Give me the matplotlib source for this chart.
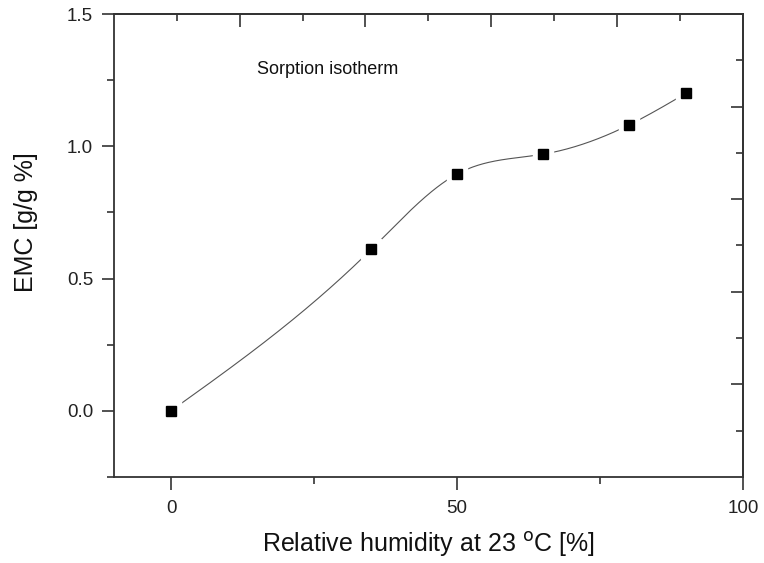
import numpy as np
import matplotlib
matplotlib.use("Agg")
from matplotlib import pyplot as plt
from matplotlib.ticker import MultipleLocator, FormatStrFormatter

# measured sorption isotherm
rh = [0, 35, 50, 65, 80, 90]
emc = [0.0, 0.61, 0.895, 0.97, 1.08, 1.2]


def natural_spline(x, y, xs):
    # natural cubic spline through the points, just for the smooth line
    x = np.asarray(x, float)
    y = np.asarray(y, float)
    n = len(x)
    h = np.diff(x)
    A = np.zeros((n, n))
    b = np.zeros(n)
    A[0, 0] = A[-1, -1] = 1
    for i in range(1, n - 1):
        A[i, i - 1] = h[i - 1]
        A[i, i] = 2 * (h[i - 1] + h[i])
        A[i, i + 1] = h[i]
        b[i] = 6 * ((y[i + 1] - y[i]) / h[i] - (y[i] - y[i - 1]) / h[i - 1])
    M = np.linalg.solve(A, b)
    k = np.clip(np.searchsorted(x, xs) - 1, 0, n - 2)
    t0 = xs - x[k]
    t1 = x[k + 1] - xs
    hk = h[k]
    return (M[k] * t1**3 / (6 * hk) + M[k + 1] * t0**3 / (6 * hk)
            + (y[k] / hk - M[k] * hk / 6) * t1
            + (y[k + 1] / hk - M[k + 1] * hk / 6) * t0)


plt.rcParams['font.family'] = ['Liberation Sans', 'DejaVu Sans']
fig = plt.figure(figsize=(7.64, 5.63), dpi=100)
ax = fig.add_axes([0.149, 0.153, 0.8235, 0.822])

xs = np.linspace(rh[0], rh[-1], 400)
ax.plot(xs, natural_spline(rh, emc, xs), color='#555555', lw=0.8, zorder=2)
# white halo so the line stops short of each marker
ax.plot(rh, emc, ls='none', marker='s', ms=14, color='white', zorder=3)
ax.plot(rh, emc, ls='none', marker='s', ms=7.5, color='black', zorder=4)

ax.set_xlim(-10, 100)
ax.set_ylim(-0.25, 1.5)
ax.xaxis.set_major_locator(MultipleLocator(50))
ax.xaxis.set_minor_locator(MultipleLocator(25))
ax.yaxis.set_major_locator(MultipleLocator(0.5))
ax.yaxis.set_minor_locator(MultipleLocator(0.25))
ax.yaxis.set_major_formatter(FormatStrFormatter('%.1f'))

spine_col = '#333333'
for s in ax.spines.values():
    s.set_color(spine_col)
    s.set_linewidth(1.3)
ax.tick_params(which='major', length=9, width=1.2, color=spine_col,
               labelsize=13.5, labelcolor='#222222')
ax.tick_params(axis='x', which='major', pad=8)
ax.tick_params(axis='y', which='major', pad=6)
ax.tick_params(which='minor', length=5, width=1.2, color=spine_col)

# mirrored top/right axes with their own tick spacing, ticks pointing in
for sec in (ax.secondary_xaxis('top', functions=(lambda v: (v + 10) / 22, lambda v: v * 22 - 10)),
            ax.secondary_yaxis('right', functions=(lambda v: (v + 0.25) / 0.35, lambda v: v * 0.35 - 0.25))):
    sec.set_ticks([1, 2, 3, 4])
    sec.set_ticks([0.5, 1.5, 2.5, 3.5, 4.5], minor=True)
    sec.tick_params(which='major', direction='in', length=9, width=1.2,
                    color=spine_col, labelsize=0, labelcolor='none')
    sec.tick_params(which='minor', direction='in', length=5, width=1.2, color=spine_col)
    for s in sec.spines.values():
        s.set_color(spine_col)
        s.set_linewidth(1.3)

ax.text(15, 1.29, 'Sorption isotherm', fontsize=13, va='center', ha='left', color='#111111')
ax.set_xlabel('Relative humidity at 23 $^{\\rm o}$C [%]', fontsize=18, labelpad=9, color='#111111')
ax.set_ylabel('EMC [g/g %]', fontsize=18, color='#111111')
ax.yaxis.set_label_coords(-0.121, 0.551)

fig.savefig('out.png', dpi=100)
